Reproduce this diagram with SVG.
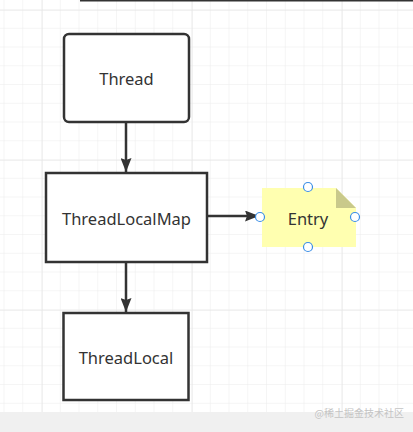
<svg xmlns="http://www.w3.org/2000/svg" width="413" height="432" viewBox="0 0 413 432">
<defs>
<pattern id="minor" x="4.5" y="10" width="18.75" height="18.75" patternUnits="userSpaceOnUse">
<path d="M18.75 0V18.75M0 18.75H18.75" fill="none" stroke="#ececec" stroke-width="1"/>
</pattern>
<pattern id="major" x="42" y="10" width="150" height="150" patternUnits="userSpaceOnUse">
<path d="M0 0V150M0 0H150" fill="none" stroke="#e4e4e4" stroke-width="1"/>
</pattern>
<marker id="arrow" viewBox="0 0 14 11" refX="14" refY="5.5" markerWidth="14" markerHeight="11" markerUnits="userSpaceOnUse" orient="auto">
<path d="M0 0L14 5.5L0 11L2 5.5z" fill="#333"/>
</marker>
</defs>
<style>
.box{fill:#fff;stroke:#333;stroke-width:2.5}
.lbl{font-family:"Noto Sans","Liberation Sans",sans-serif;font-size:16.5px;fill:#333;text-anchor:middle;dominant-baseline:central}
.edge{stroke:#333;stroke-width:2.5;fill:none}
.handle{fill:#fff;stroke:#3a8ee6;stroke-width:1.2}
</style>
<rect width="413" height="432" fill="#fff"/>
<rect width="413" height="412" fill="url(#minor)"/>
<rect width="413" height="412" fill="url(#major)"/>
<line x1="80" y1="0.5" x2="413" y2="0.5" stroke="#333" stroke-width="2"/>
<rect x="0" y="412" width="413" height="20" fill="#f0f0f0"/>
<text x="404" y="417" font-family="'Noto Sans CJK SC',sans-serif" font-size="10" fill="#c4c4c4" text-anchor="end">@稀土掘金技术社区</text>
<g id="connectors">
<line class="edge" x1="126" y1="122" x2="126" y2="172" marker-end="url(#arrow)"/>
<line class="edge" x1="126" y1="262" x2="126" y2="312" marker-end="url(#arrow)"/>
<line class="edge" x1="207" y1="216" x2="259" y2="216" marker-end="url(#arrow)"/>
</g>
<g id="thread">
<rect class="box" x="64" y="34" width="125" height="88" rx="5"/>
<text class="lbl" x="126.5" y="78">Thread</text>
</g>
<g id="threadlocalmap">
<rect class="box" x="46" y="173" width="161" height="89"/>
<text class="lbl" x="126.5" y="218">ThreadLocalMap</text>
</g>
<g id="threadlocal">
<rect class="box" x="63.5" y="313" width="125" height="87"/>
<text class="lbl" x="126" y="357">ThreadLocal</text>
</g>
<g id="entry">
<path d="M262 188H336L356 208V247H262z" fill="#ffffb0"/>
<path d="M336 188L356 208H336z" fill="#c9c98b"/>
<text class="lbl" x="308" y="218">Entry</text>
<circle class="handle" cx="308" cy="187" r="4.5"/>
<circle class="handle" cx="260" cy="217" r="4.5"/>
<circle class="handle" cx="355" cy="217" r="4.5"/>
<circle class="handle" cx="308" cy="247" r="4.5"/>
</g>
</svg>
